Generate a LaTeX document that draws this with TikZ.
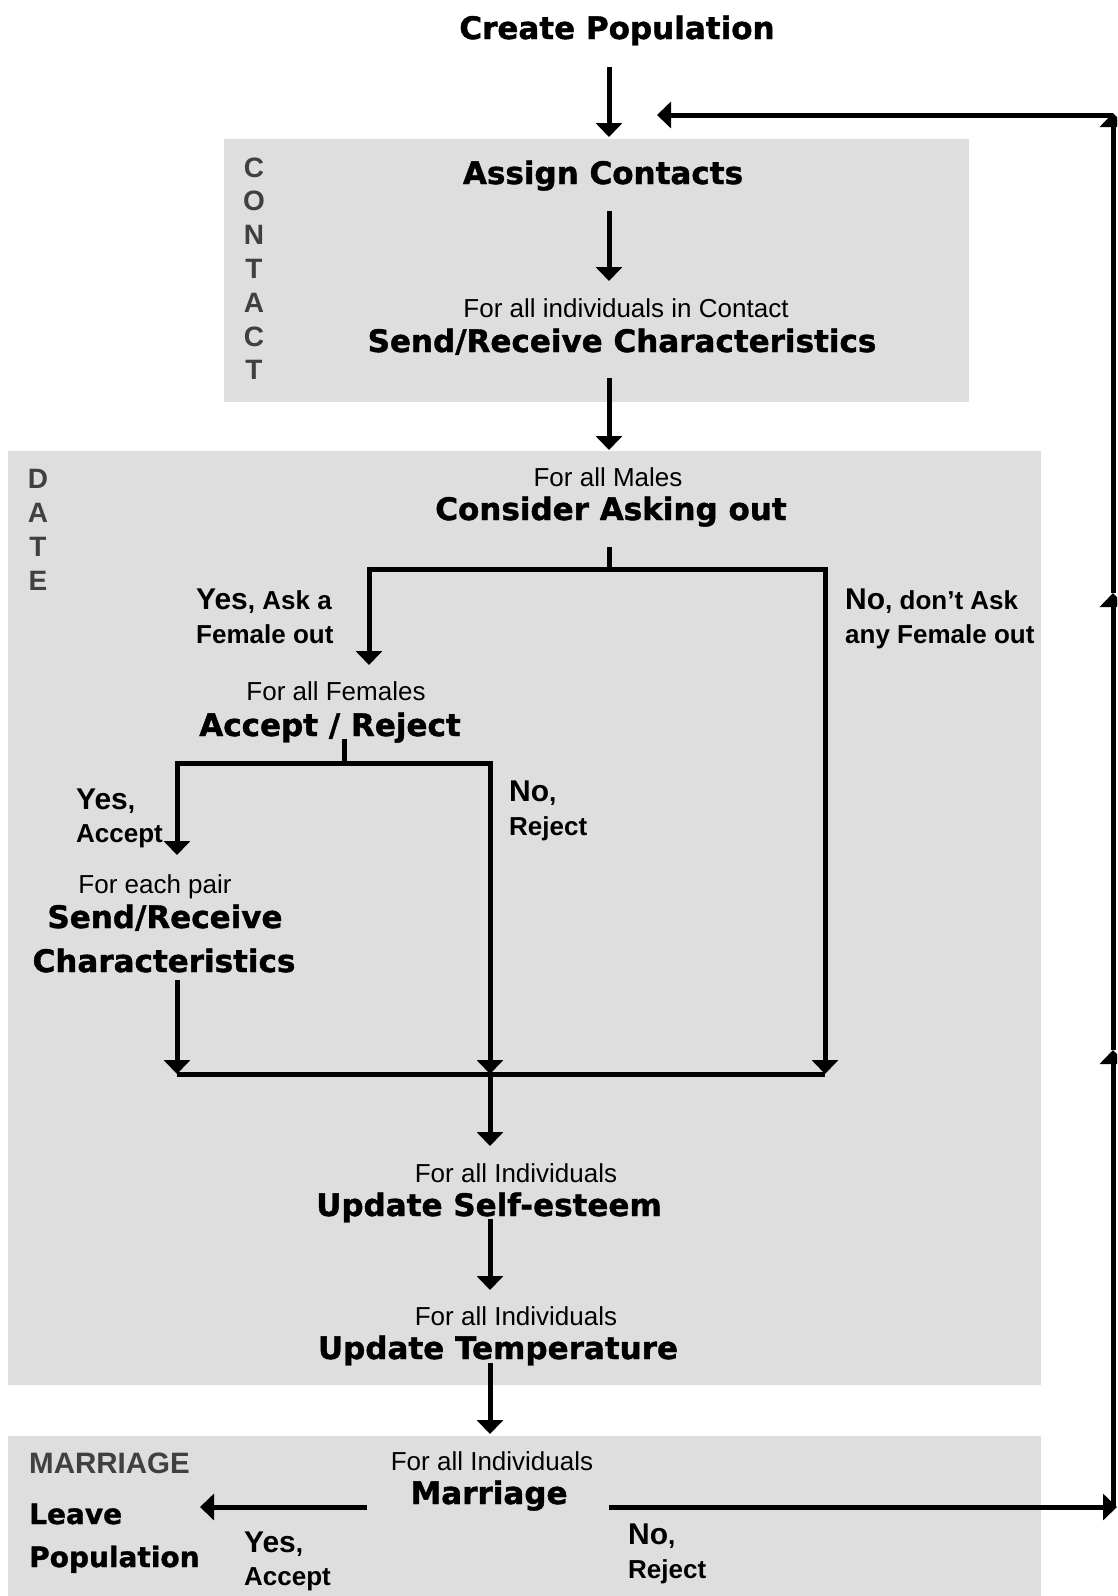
\documentclass[tikz,border=0pt]{standalone}
\usepackage{fontspec}
\setmainfont{Liberation Sans}
\newfontfamily\heavyfont{DejaVu Sans}[BoldFeatures={FakeBold=1.3}]
\usetikzlibrary{arrows.meta}
\definecolor{shade}{gray}{0.87}
\definecolor{lettergray}{gray}{0.25}
\newcommand\bigword[1]{{\fontsize{30}{30}\selectfont #1}}
\tikzset{
  heading/.style={font=\heavyfont\bfseries\fontsize{31}{36}\selectfont, inner sep=0pt, anchor=base},
  heavylbl/.style={font=\heavyfont\bfseries\fontsize{28}{32}\selectfont, inner sep=0pt, anchor=base west},
  sub/.style={font=\fontsize{26}{30}\selectfont, inner sep=0pt, anchor=base},
  lbl/.style={font=\bfseries\fontsize{26}{30}\selectfont, inner sep=0pt, anchor=base west},
  vert/.style={font=\bfseries\fontsize{28}{30}\selectfont, text=lettergray, inner sep=0pt, anchor=base},
  grouplbl/.style={font=\bfseries\fontsize{29.5}{30}\selectfont, text=lettergray, inner sep=0pt, anchor=base west},
  panel/.style={fill=shade, draw=none},
  ln/.style={line width=5pt},
  arr/.style={ln, -{Triangle[width=26pt,length=14pt]}},
}
\begin{document}
\begin{tikzpicture}[x=1pt,y=-1pt]
\useasboundingbox (0,0) rectangle (1117,1596);
\clip (0,0) rectangle (1117,1596);
\fill[white] (0,0) rectangle (1117,1596);

% panels
\fill[panel] (224,139) rectangle (969,402);
\fill[panel] (8,451) rectangle (1041,1385);
\fill[panel] (8,1436) rectangle (1041,1596);

% vertical group letters
\foreach \c [count=\i] in {C,O,N,T,A,C,T}
  \node[vert] (contact\i) at (254,{177+33.8*(\i-1)}) {\c};
\foreach \c [count=\i] in {D,A,T,E}
  \node[vert] (date\i) at (38,{488+34*(\i-1)}) {\c};
\node[grouplbl] (marriagelbl) at (29,1473) {MARRIAGE};

% main texts
\node[heading] (create) at (617,39) {Create Population};
\node[heading] (assign) at (603,184) {Assign Contacts};
\node[sub] (allcontact) at (626,317) {For all individuals in Contact};
\node[heading] (sendrecv) at (622,352) {Send/Receive Characteristics};
\node[sub] (allmales) at (608,486) {For all Males};
\node[heading] (consider) at (611,520) {Consider Asking out};

\node[lbl] (yesask1) at (196,609) {\bigword{Yes}, Ask a};
\node[lbl] (yesask2) at (196,643) {Female out};
\node[lbl] (noask1) at (845,609) {\bigword{No}, don’t Ask};
\node[lbl] (noask2) at (845,643) {any Female out};

\node[sub] (allfemales) at (336,700) {For all Females};
\node[heading] (acceptreject) at (330,736) {Accept / Reject};

\node[lbl] (yesacc1) at (76,809) {\bigword{Yes},};
\node[lbl] (yesacc2) at (76,842) {Accept};
\node[lbl] (norej1) at (509,801) {\bigword{No},};
\node[lbl] (norej2) at (509,835) {Reject};

\node[sub] (eachpair) at (155,893) {For each pair};
\node[heading] (pairsend) at (165,928) {Send/Receive};
\node[heading] (pairchar) at (164,972) {Characteristics};

\node[sub] (allind1) at (516,1182) {For all Individuals};
\node[heading] (selfesteem) at (489,1216) {Update Self-esteem};
\node[sub] (allind2) at (516,1325) {For all Individuals};
\node[heading] (temperature) at (498,1359) {Update Temperature};
\node[sub] (allind3) at (492,1470) {For all Individuals};
\node[heading] (marriage) at (489,1504) {Marriage};

\node[heavylbl] (leave1) at (29,1524) {Leave};
\node[heavylbl] (leave2) at (29,1567) {Population};
\node[lbl] (myes1) at (244,1552) {\bigword{Yes},};
\node[lbl] (myes2) at (244,1585) {Accept};
\node[lbl] (mno1) at (628,1544) {\bigword{No},};
\node[lbl] (mno2) at (628,1578) {Reject};

% connector coordinates
\coordinate (createbot) at (609,67);
\coordinate (assigntop) at (609,137);
\coordinate (assignbot) at (609,211);
\coordinate (sendtop) at (609,281);
\coordinate (sendbot) at (609,378);
\coordinate (considertop) at (609,450);
\coordinate (considerbot) at (609,547);
\coordinate (split1) at (609,569);
\coordinate (femtop) at (369,665);
\coordinate (arbot) at (344,739);
\coordinate (split2) at (344,763);
\coordinate (pairtop) at (177,855);
\coordinate (charbot) at (177,980);
\coordinate (joinL) at (177,1074);
\coordinate (joinM) at (490,1074);
\coordinate (joinR) at (825,1074);
\coordinate (seTop) at (490,1146);
\coordinate (seBot) at (490,1219);
\coordinate (tempTop) at (490,1290);
\coordinate (tempBot) at (490,1363);
\coordinate (marTop) at (490,1434);
\coordinate (marL) at (367,1507);
\coordinate (leaveR) at (200,1507);
\coordinate (marR) at (609,1507);
\coordinate (loopBR) at (1117,1507);
\coordinate (loopB) at (1113,1507);
\coordinate (loopM1) at (1113,1050);
\coordinate (loopM2) at (1113,593);
\coordinate (loopT) at (1113,113);
\coordinate (loopTR) at (1113,115);
\coordinate (loopEnd) at (657,115);

% connectors
\draw[arr] (createbot) -- (assigntop);
\draw[arr] (assignbot) -- (sendtop);
\draw[arr] (sendbot) -- (considertop);
\draw[ln] (considerbot) -- (split1);
\draw[arr] (split1) -| (femtop);
\draw[arr] (split1) -| (joinR);
\draw[ln] (arbot) -- (split2);
\draw[arr] (split2) -| (pairtop);
\draw[arr] (split2) -| (joinM);
\draw[arr] (charbot) -- (joinL);
\draw[ln] (joinL) -- (joinR);
\draw[arr] (joinM) -- (seTop);
\draw[arr] (seBot) -- (tempTop);
\draw[arr] (tempBot) -- (marTop);
\draw[arr] (marL) -- (leaveR);
\draw[arr] (marR) -- (loopBR);
\draw[arr] (loopB) -- (loopM1);
\draw[arr] (loopM1) -- (loopM2);
\draw[arr] (loopM2) -- (loopT);
\draw[arr] (loopTR) -- (loopEnd);
\end{tikzpicture}
\end{document}
